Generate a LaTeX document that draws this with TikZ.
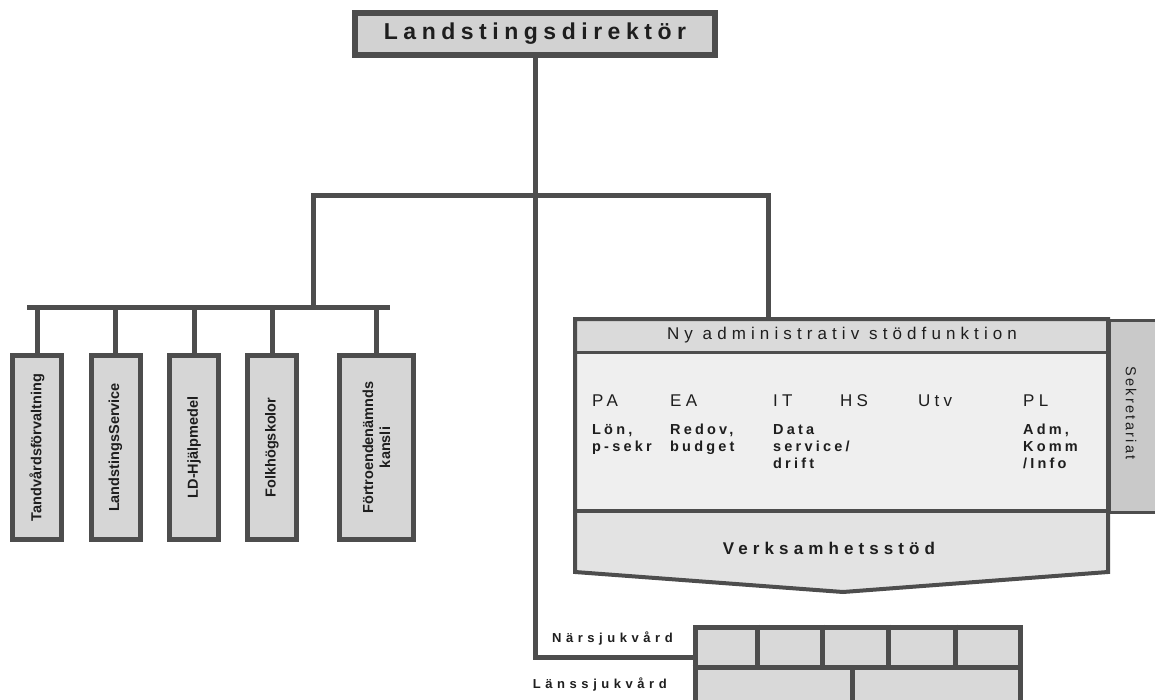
\documentclass[tikz,border=0pt]{standalone}
\usepackage{fontspec}
\setmainfont{Liberation Sans}
\newcommand{\lsp}[2]{{\addfontfeature{LetterSpace=#1}#2}}
\definecolor{lc}{HTML}{4D4D4D}
\definecolor{txt}{HTML}{1E1E1E}
\definecolor{boxfill}{HTML}{D6D6D6}
\definecolor{topfill}{HTML}{D2D2D2}
\definecolor{bandfill}{HTML}{DADADA}
\definecolor{midfill}{HTML}{EFEFEF}
\definecolor{botfill}{HTML}{E3E3E3}
\definecolor{sekfill}{HTML}{C9C9C9}
\definecolor{brickfill}{HTML}{D9D9D9}

\begin{document}
\begin{tikzpicture}[x=1pt,y=-1pt,
  conn/.style={draw=lc, line width=5pt},
  unitbox/.style={draw=lc, line width=5pt, fill=boxfill, minimum width=49pt,
    minimum height=184pt, inner sep=0pt},
  unitlabel/.style={rotate=90, inner sep=0pt, align=center, text=txt,
    font=\fontsize{14.5}{17}\selectfont\bfseries},
  colhead/.style={anchor=base west, inner sep=0pt, text=txt,
    font=\fontsize{17}{20}\selectfont},
  colitem/.style={anchor=base west, inner sep=0pt, text=txt,
    font=\fontsize{14.5}{17}\selectfont\bfseries},
  sidelabel/.style={anchor=base east, inner sep=0pt, text=txt,
    font=\fontsize{13}{15}\selectfont\bfseries},
]
\useasboundingbox (0,0) rectangle (1155,700);
\fill[white] (0,0) rectangle (1155,700);
\clip (0,0) rectangle (1155,700);

% director
\node[draw=lc, line width=6pt, fill=topfill, minimum width=360pt, minimum height=42pt,
  inner sep=0pt, text=txt, font=\fontsize{23}{26}\selectfont\bfseries]
  (top) at (535,34) {\lsp{24}{Landstingsdirektör}};

% five staff units
\node[unitbox] (b1) at (37,447.5) {};
\node[unitbox] (b2) at (115.5,447.5) {};
\node[unitbox] (b3) at (194,447.5) {};
\node[unitbox] (b4) at (272,447.5) {};
\node[unitbox, minimum width=74pt] (b5) at (376.5,447.5) {};
\node[unitlabel] at (b1) {Tandvårdsförvaltning};
\node[unitlabel] at (b2) {LandstingsService};
\node[unitlabel] at (b3) {LD-Hjälpmedel};
\node[unitlabel] at (b4) {Folkhögskolor};
\node[unitlabel] at (b5) {Förtroendenämnds\\kansli};

% administrative support block
\coordinate (atl) at (575,319);
\coordinate (atr) at (1108,319);
\coordinate (abr) at (1108,572);
\coordinate (atip) at (843,592);
\coordinate (abl) at (575,572);
\fill[bandfill] (575,319) rectangle (1108,352);
\fill[midfill] (575,352) rectangle (1108,511);
\fill[botfill] (575,511) -- (1108,511) -- (abr) -- (atip) -- (abl) -- cycle;
\draw[lc, line width=3pt] (575,352) -- (1108,352);
\draw[lc, line width=4pt] (575,511) -- (1108,511);
\draw[lc, line width=4pt, line join=miter] (atl) -- (atr) -- (abr) -- (atip) -- (abl) -- cycle;
\node[inner sep=0pt, text=txt, font=\fontsize{17}{20}\selectfont] (admin) at (842,335)
  {\lsp{30}{Ny administrativ stödfunktion}};
\node[inner sep=0pt, text=txt, font=\fontsize{17}{20}\selectfont\bfseries] (verks) at (829,548)
  {\lsp{30}{Verksamhetsstöd}};

% secretariat
\node[draw=lc, line width=3pt, fill=sekfill, minimum width=54pt, minimum height=192pt,
  anchor=north west, inner sep=0pt] (sekr) at (1108,319) {};
\node[rotate=-90, inner sep=0pt, text=txt, font=\fontsize{14.5}{17}\selectfont]
  at (1131,413) {\lsp{16}{Sekretariat}};

% functions inside the block
\node[colhead] (pa) at (592,406) {\lsp{25}{PA}};
\node[colhead] (ea) at (670,406) {\lsp{25}{EA}};
\node[colhead] (it) at (773,406) {\lsp{25}{IT}};
\node[colhead] (hs) at (840,406) {\lsp{25}{HS}};
\node[colhead] (utv) at (918,406) {\lsp{25}{Utv}};
\node[colhead] (pl) at (1023,406) {\lsp{25}{PL}};
\node[colitem] at (592,434) {\lsp{22}{Lön,}};
\node[colitem] at (592,451) {\lsp{22}{p-sekr}};
\node[colitem] at (670,434) {\lsp{22}{Redov,}};
\node[colitem] at (670,451) {\lsp{22}{budget}};
\node[colitem] at (773,434) {\lsp{22}{Data}};
\node[colitem] at (773,451) {\lsp{22}{service/}};
\node[colitem] at (773,468) {\lsp{22}{drift}};
\node[colitem] at (1023,434) {\lsp{22}{Adm,}};
\node[colitem] at (1023,451) {\lsp{22}{Komm}};
\node[colitem] at (1023,468) {\lsp{22}{/Info}};

% care levels
\node[draw=lc, line width=5pt, fill=brickfill, minimum width=325pt, minimum height=100pt,
  anchor=north west, inner sep=0pt] (bricks) at (692.5,624.5) {};
\draw[lc, line width=5pt] (bricks.west |- 0,667) -- (bricks.east |- 0,667);
\foreach \bx in {757,822,888,955}
  \draw[lc, line width=5pt] (\bx,624.5) -- (\bx,667);
\draw[lc, line width=5pt] (852,667) -- (852,705);
\node[sidelabel] (nar) at (673,642) {\lsp{35}{Närsjukvård}};
\node[sidelabel] (lans) at (667,688) {\lsp{35}{Länssjukvård}};

% connectors
\coordinate (hl) at (313,196);
\coordinate (hr) at (768,196);
\coordinate (sbl) at (27,307);
\coordinate (sbr) at (390,307);
\coordinate (bj) at (692.5,657);
\draw[conn, line join=miter] (hl |- sbl) -- (hl) -- (hr) -- (hr |- atl);
\draw[conn] (sbl) -- (sbr);
\foreach \b in {b1,b2,b3,b4,b5}
  \draw[conn] (\b.north |- sbl) -- (\b.north);
\draw[conn, line join=miter] (top.south) -- (top.south |- bj) -- (bj);
\end{tikzpicture}
\end{document}
